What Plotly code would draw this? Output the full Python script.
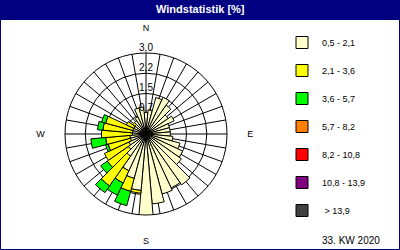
import plotly.graph_objects as go

# ---- data ----
directions = list(range(0, 360, 10))
classes = ["0,5 - 2,1", "2,1 - 3,6", "3,6 - 5,7", "5,7 - 8,2", "8,2 - 10,8", "10,8 - 13,9", " > 13,9"]
colors = ["#FFFFCC", "#FFFF00", "#00FF00", "#FF8000", "#FF0000", "#800080", "#404040"]

c1 = [0.8, 0.9, 1.4, 1.5, 1.3, 1.0, 1.15, 0.9, 0.9, 0.9, 1.0, 1.3,
      1.5, 1.6, 2.3, 2.2, 2.3, 2.6, 3.0, 2.1, 1.7, 1.5, 1.0, 0.8,
      0.7, 0.6, 0.6, 0.5, 0.5, 0.5, 0.5, 0.5, 0.6, 0.7, 1.0, 1.0]
c2 = [0, 0, 0, 0, 0, 0, 0, 0, 0, 0, 0, 0,
      0, 0, 0, 0, 0, 0, 0, 0.1, 0.5, 0.5, 1.35, 0.95,
      1.0, 0.85, 0.9, 1.15, 1.1, 1.05, 0.3, 0.1, 0, 0, 0, 0]
c3 = [0, 0, 0, 0, 0, 0, 0, 0, 0, 0, 0, 0,
      0, 0, 0, 0, 0, 0, 0, 0, 0.55, 0.5, 0.3, 0.3,
      0, 0.1, 0.55, 0, 0.2, 0.15, 0, 0, 0, 0, 0, 0]
c4 = [0] * 36
c5 = [0] * 36
c6 = [0] * 36
c7 = [0] * 36
series = [c1, c2, c3, c4, c5, c6, c7]

ring_vals = [0.75, 1.5, 2.25, 3.0]
ring_text = ["0,7", "1,5", "2,2", "3,0"]
compass_vals = [0, 90, 180, 270]
compass_text = ["N", "E", "S", "W"]
title_text = "Windstatistik [%]"
footer_text = "33. KW 2020"

# ---- figure ----
fig = go.Figure()
for i, (name, col, vals) in enumerate(zip(classes, colors, series)):
    fig.add_trace(go.Barpolar(
        r=vals, theta=directions, width=[10] * len(directions), name=name,
        marker=dict(color=col, line=dict(color="black", width=1)),
        legendgroup=f"g{i}", hoverinfo="skip"))

fig.add_trace(go.Scatterpolar(
    r=ring_vals, theta=[0] * len(ring_vals), mode="text", text=ring_text,
    textposition="top center", cliponaxis=False, showlegend=False,
    textfont=dict(family="Liberation Sans", size=10, color="black"), hoverinfo="skip"))

tickvals = directions
ticktext = [compass_text[compass_vals.index(d)] if d in compass_vals else "" for d in directions]

W, H = 400, 250
cx, cy, R = 146, 134, 81
fig.update_layout(
    width=W, height=H, margin=dict(l=0, r=0, t=0, b=0),
    paper_bgcolor="white", plot_bgcolor="white",
    polar=dict(
        domain=dict(x=[(cx - R) / W, (cx + R) / W], y=[(H - cy - R) / H, (H - cy + R) / H]),
        bgcolor="white", barmode="stack", hole=0,
        angularaxis=dict(rotation=90, direction="clockwise", tickmode="array",
                         tickvals=tickvals, ticktext=ticktext, showgrid=True,
                         gridcolor="black", gridwidth=1, showline=True, linecolor="black",
                         linewidth=1, ticks="outside", ticklen=18, tickcolor="rgba(0,0,0,0)",
                         tickfont=dict(family="Liberation Sans", size=9, color="black"),
                         layer="below traces"),
        radialaxis=dict(range=[0, 3.0], tickmode="array", tickvals=ring_vals,
                        showticklabels=False, showgrid=True, gridcolor="black", gridwidth=1,
                        showline=False, ticks="", layer="below traces"),
    ),
    showlegend=True,
    legend=dict(x=0.705, y=1 - 28 / H, xanchor="left", yanchor="top",
                traceorder="grouped", tracegroupgap=9, bgcolor="rgba(0,0,0,0)",
                font=dict(family="Liberation Sans", size=9, color="black")),
    shapes=[
        dict(type="rect", xref="paper", yref="paper", x0=0, x1=1, y0=1 - 20 / H, y1=1,
             fillcolor="#000080", line=dict(width=0), layer="above"),
        dict(type="rect", xref="paper", yref="paper", x0=0.5 / W, x1=1 - 0.5 / W,
             y0=0.5 / H, y1=1 - 0.5 / H, line=dict(color="#000080", width=1)),
    ],
    annotations=[
        dict(text=f"<b>{title_text}</b>", xref="paper", yref="paper", x=0.5, y=1 - 8.5 / H,
             xanchor="center", yanchor="middle", showarrow=False,
             font=dict(family="Liberation Sans", size=11, color="white")),
        dict(text=footer_text, xref="paper", yref="paper", x=382 / W, y=1 - 240 / H,
             xanchor="right", yanchor="middle", showarrow=False,
             font=dict(family="Liberation Sans", size=10, color="black")),
    ],
)
fig.write_html("out.html")
